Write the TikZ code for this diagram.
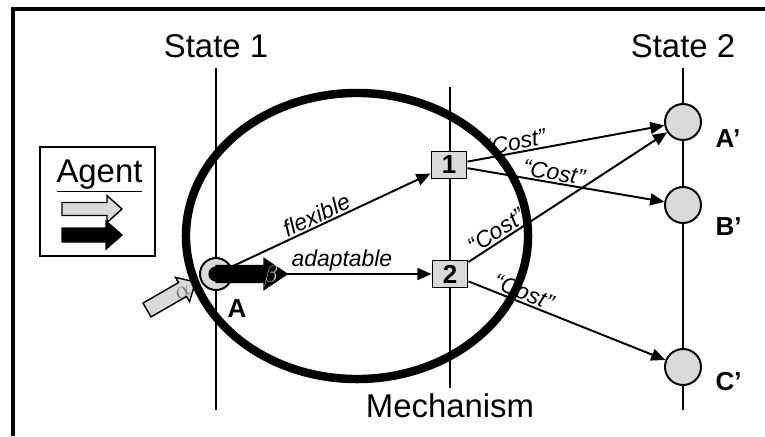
\documentclass[tikz,border=0pt]{standalone}
\usepackage{fontspec}
\setmainfont{Liberation Sans}
\usetikzlibrary{arrows.meta}

\begin{document}
\begin{tikzpicture}[x=0.025cm,y=-0.025cm,>={Triangle[length=10pt,width=8.5pt]},line width=1.4pt,
        big/.style={font=\fontsize{23.4}{28}\selectfont},
        lbl/.style={font=\bfseries\fontsize{18.5}{21}\selectfont},
        edgetxt/.style={font=\itshape\fontsize{16.3}{19}\selectfont, sloped, above, inner sep=1pt},
        mechbox/.style={draw, rectangle, fill=black!15, minimum width=0.875cm, minimum height=0.675cm, inner sep=0pt, font=\bfseries\fontsize{18.5}{20}\selectfont},
        statenode/.style={draw, circle, fill=black!15, minimum size=0.9cm, inner sep=0pt},
        grayarrow/.style={draw, fill=black!15, line width=1pt},
        blackarrow/.style={draw, fill=black, line width=1pt}]
        \useasboundingbox (0,0) rectangle (765,436);
        \draw[line width=2.3pt] (13,436) -- (13,9) -- (765,9);

        \node (s1) [big, anchor=base] at (216,57) {State 1};
        \node (s2) [big, anchor=base] at (683,57) {State 2};
        \node (mech) [big, anchor=base] at (450,417) {Mechanism};
        \draw (216,68) -- (216,410);
        \draw (450,87) -- (450,388);
        \draw (683,68) -- (683,410);

        \node (legend) [draw, rectangle, minimum width=2.875cm, minimum height=2.725cm] at (97.5,201.5) {};
        \node (agent) [big, anchor=base] at (99.5,182) {\underline{Agent}};
        \begin{scope}[shift={(62,235)}]
            \draw[blackarrow] (0,-7) -- (44,-7) -- (44,-14) -- (60,0) -- (44,14) -- (44,7) -- (0,7) -- cycle;
        \end{scope}
        \begin{scope}[shift={(62,209)}]
            \draw[grayarrow] (0,-6.5) -- (45,-6.5) -- (45,-13.5) -- (60,0) -- (45,13.5) -- (45,6.5) -- (0,6.5) -- cycle;
        \end{scope}

        \begin{scope}[shift={(147,310)},rotate=30]
            \draw[grayarrow] (0,-8) -- (41,-8) -- (41,-14) -- (56,0) -- (41,14) -- (41,8) -- (0,8) -- cycle;
        \end{scope}
        \node (alpha) [rotate=30, text=black!55, font=\fontsize{17}{17}\selectfont] at (183,292) {$\alpha$};

        \node (A) [draw, circle, fill=black!15, minimum size=0.8cm, inner sep=0pt] at (216,274) {};
        \fill (A.center) circle [radius=0.19cm];
        \begin{scope}[shift={(216,274)}]
            \draw[blackarrow] (0,-8.5) -- (48,-8.5) -- (48,-15.5) -- (71,0) -- (48,15.5) -- (48,8.5) -- (0,8.5) -- cycle;
        \end{scope}
        \coordinate (btip) at (287,274);
        \node (beta) [text=black!20, font=\fontsize{18}{18}\selectfont] at (271,276) {$\beta$};
        \node (Alab) [lbl, anchor=base] at (237,317) {A};

        \node (b1) [mechbox] at (449,165) {1};
        \node (b2) [mechbox] at (450,274) {2};
        \node (sA) [statenode] at (683,122) {};
        \node (sB) [statenode] at (683,205) {};
        \node (sC) [statenode] at (683,367) {};
        \node [lbl, anchor=base west] at (710,147) {A’};
        \node [lbl, anchor=base west] at (710,235) {B’};
        \node [lbl, anchor=base west] at (710,390) {C’};

        \draw[->] (A) -- node[edgetxt, pos=0.45] {flexible} (b1);
        \draw[->] (btip) -- node[edgetxt, pos=0.38] {adaptable} (b2);
        \draw[->] (b1) -- node[edgetxt, pos=0.25] {“Cost”} (sA);
        \draw[->] (b1) -- node[edgetxt, pos=0.43] {“Cost”} (sB);
        \draw[->] (b2) -- node[edgetxt, pos=0.17] {“Cost”} (sA);
        \draw[->] (b2) -- node[edgetxt, pos=0.26] {“Cost”} (sC);

        \draw[line width=6pt] (357,236) ellipse [x radius=4.275cm, y radius=3.575cm];
    \end{tikzpicture}
\end{document}
